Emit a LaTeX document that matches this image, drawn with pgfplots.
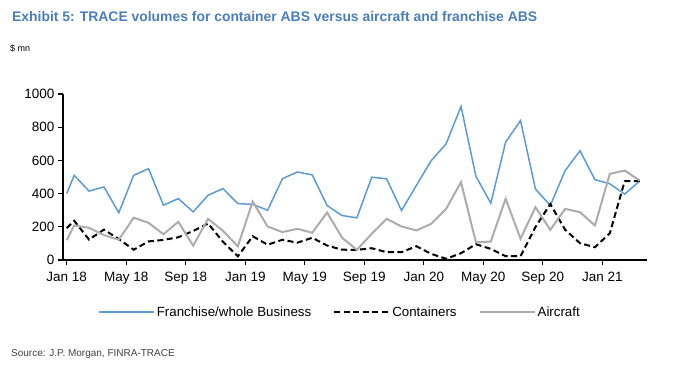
\documentclass[border=0pt]{standalone}
\usepackage{pgfplots}
\pgfplotsset{compat=1.18}
\usepackage{fontspec}
\setmainfont{Liberation Sans}
\definecolor{ttl}{RGB}{74,126,187}
\definecolor{fblue}{RGB}{91,155,213}
\definecolor{agray}{RGB}{172,172,172}
\pgfplotstableread{
x y
0 400
0.5 510
1.5 415
2.5 440
3.5 285
4.5 510
5.5 550
6.5 330
7.5 370
8.5 290
9.5 390
10.5 430
11.5 340
12.5 335
13.5 300
14.5 490
15.5 530
16.5 513
17.5 328
18.5 268
19.5 254
20.5 499
21.5 489
22.5 298
23.5 449
24.5 599
25.5 700
26.5 925
27.5 505
28.5 342
29.5 710
30.5 840
31.5 428
32.5 328
33.5 539
34.5 658
35.5 484
36.5 459
37.5 397
38.5 475
}\franchise
\pgfplotstableread{
x y
0 192
0.5 236
1.5 123
2.5 183
3.5 126
4.5 62
5.5 112
6.5 121
7.5 137
8.5 175
9.5 220
10.5 110
11.5 22
12.5 143
13.5 92
14.5 122
15.5 104
16.5 134
17.5 87
18.5 62
19.5 61
20.5 71
21.5 47
22.5 47
23.5 83
24.5 37
25.5 7
26.5 41
27.5 95
28.5 67
29.5 23
30.5 23
31.5 198
32.5 337
33.5 182
34.5 101
35.5 77
36.5 161
37.5 475
38.5 475
}\containers
\pgfplotstableread{
x y
0 120
0.5 208
1.5 194
2.5 150
3.5 122
4.5 255
5.5 224
6.5 155
7.5 230
8.5 86
9.5 248
10.5 176
11.5 82
12.5 352
13.5 202
14.5 168
15.5 188
16.5 164
17.5 286
18.5 135
19.5 61
20.5 158
21.5 248
22.5 202
23.5 178
24.5 218
25.5 308
26.5 469
27.5 107
28.5 111
29.5 369
30.5 128
31.5 318
32.5 182
33.5 308
34.5 288
35.5 208
36.5 519
37.5 539
38.5 479
}\aircraft
\begin{document}
\begin{tikzpicture}[x=1pt,y=1pt]
\path[use as bounding box] (0,0) rectangle (680,370);
\node[anchor=west,font=\fontsize{13.9}{16}\selectfont\bfseries,text=ttl,inner sep=0] at (12,353) {Exhibit 5: TRACE volumes for container ABS versus aircraft and franchise ABS};
\node[anchor=west,font=\fontsize{9}{11}\selectfont,inner sep=0] at (10,322) {\$ mn};
\node[anchor=west,font=\fontsize{10}{12}\selectfont,text=black!75,inner sep=0] at (11,16) {Source: J.P. Morgan, FINRA-TRACE};
\begin{axis}[
  at={(63pt,110pt)}, anchor=south west,
  scale only axis, width=584pt, height=166pt,
  xmin=-0.25, xmax=39, ymin=0, ymax=1000,
  axis x line*=bottom, axis y line*=left,
  axis line style={black, line width=1.1pt},
  tick align=outside, major tick length=5pt,
  tick style={black, line width=1.1pt},
  xtick={0,4,...,36},
  xticklabels={Jan 18,May 18,Sep 18,Jan 19,May 19,Sep 19,Jan 20,May 20,Sep 20,Jan 21},
  ytick={0,200,...,1000},
  yticklabels={0,200,400,600,800,1000},
  tick label style={font=\fontsize{13.5}{15}\selectfont},
  xticklabel style={yshift=-4pt},
  /pgf/number format/assume math mode=true,
  legend image code/.code={\draw[#1] (0pt,0pt) -- (55pt,0pt);},
  legend columns=3,
  legend style={at={(0.055,-0.313)}, anchor=west, draw=none, fill=none,
    font=\fontsize{13.3}{15}\selectfont,
    /tikz/every even column/.append style={column sep=20pt}},
]
\addplot[fblue, line width=1.5pt] table[x=x,y=y] {\franchise};
\addlegendentry{Franchise/whole Business}
\addplot[black, line width=2pt, dash pattern=on 6pt off 3.5pt] table[x=x,y=y] {\containers};
\addlegendentry{Containers}
\addplot[agray, line width=2pt] table[x=x,y=y] {\aircraft};
\addlegendentry{Aircraft}
\end{axis}
\end{tikzpicture}
\end{document}
